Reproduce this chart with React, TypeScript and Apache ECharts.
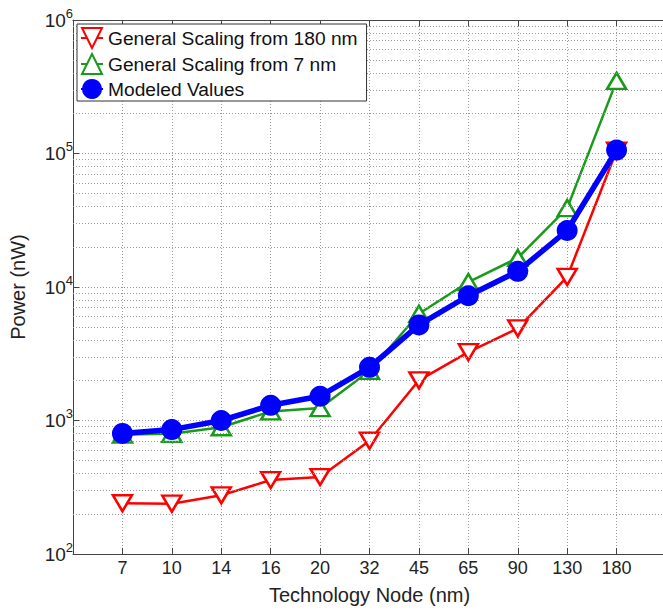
import React, { useEffect, useRef } from "react";
import * as echarts from "echarts";

const nodes = ["7", "10", "14", "16", "20", "32", "45", "65", "90", "130", "180"];
const from180 = [240, 238, 275, 358, 377, 705, 2000, 3250, 4900, 11900, 105000];
const from7 = [785, 795, 890, 1170, 1240, 2350, 6300, 10900, 16500, 39000, 350000];
const modeled = [800, 855, 1000, 1300, 1520, 2500, 5200, 8600, 13100, 26500, 106000];
const decades = [100, 1000, 10000, 100000];
const minorMultipliers = [2, 3, 4, 5, 6, 7, 8, 9];

const FONT = "Liberation Sans, Arial, Helvetica, sans-serif";

export default function App() {
  const ref = useRef<HTMLDivElement>(null);
  useEffect(() => {
    if (!ref.current) return;
    const chart = echarts.init(ref.current, undefined, { renderer: "svg" });
    const minorValues = decades.flatMap((d) => minorMultipliers.map((m) => m * d));
    const toPairs = (arr: number[]) => arr.map((v, i) => [i + 1, v]);
    const gridLine = { color: "#9a9a9a", type: [1, 2] as any, width: 1 };
    chart.setOption({
      animation: false,
      backgroundColor: "#fff",
      textStyle: { fontFamily: FONT },
      grid: {
        left: 73,
        top: 20,
        width: 593,
        height: 534,
        show: false,
        containLabel: false,
        outerBoundsMode: "none",
      },
      legend: {
        left: 77,
        top: 24,
        orient: "vertical",
        data: ["General Scaling from 180 nm", "General Scaling from 7 nm", "Modeled Values"],
        backgroundColor: "#fff",
        borderColor: "#333",
        borderWidth: 1,
        borderRadius: 0,
        padding: [3, 9, 2, 3],
        itemWidth: 22,
        itemHeight: 25,
        itemGap: 4,
        textStyle: { fontFamily: FONT, fontSize: 19.2, color: "#111" },
        z: 10,
      },
      xAxis: [
        {
          type: "value",
          min: 0,
          max: 12,
          interval: 1,
          name: "Technology Node (nm)",
          nameLocation: "middle",
          nameGap: 31,
          nameTextStyle: { fontFamily: FONT, fontSize: 20, color: "#222" },
          axisLine: { show: true, lineStyle: { color: "#444", width: 1 } },
          axisTick: { show: true, inside: true, length: 6, lineStyle: { color: "#444" } },
          axisLabel: {
            fontFamily: FONT,
            fontSize: 18,
            color: "#222",
            margin: 5,
            showMinLabel: true,
            showMaxLabel: true,
            formatter: (v: number) => nodes[Math.round(v) - 1] ?? "",
          },
          splitLine: { show: true, lineStyle: gridLine },
        },
        {
          type: "value",
          position: "top",
          min: 0,
          max: 12,
          interval: 1,
          axisLine: { show: true, lineStyle: { color: "#444", width: 1 } },
          axisTick: { show: true, inside: true, length: 6, lineStyle: { color: "#444" } },
          axisLabel: { show: false },
          splitLine: { show: false },
        },
      ],
      yAxis: {
        type: "log",
        logBase: 10,
        min: 100,
        max: 1000000,
        name: "Power (nW)",
        nameLocation: "middle",
        nameGap: 45,
        nameTextStyle: { fontFamily: FONT, fontSize: 20, color: "#222" },
        axisLine: { show: true, lineStyle: { color: "#444", width: 1 } },
        axisTick: { show: true, inside: true, length: 6, lineStyle: { color: "#444" } },
        axisLabel: {
          margin: 0,
          formatter: (v: number) => `{b|10}{s|${Math.round(Math.log10(v))}}`,
          rich: {
            b: { fontFamily: FONT, fontSize: 19, color: "#222" },
            s: { fontFamily: FONT, fontSize: 13, color: "#222", padding: [0, 0, 14, 0] },
          },
        },
        splitLine: { show: true, lineStyle: gridLine },
      },
      series: [
        {
          type: "line",
          name: "_grid",
          data: [],
          z: 1,
          silent: true,
          markLine: {
            silent: true,
            symbol: ["none", "none"],
            label: { show: false },
            lineStyle: gridLine,
            emphasis: { disabled: true },
            data: minorValues.map((v) => ({ yAxis: v })),
          },
        },
        {
          type: "line",
          name: "General Scaling from 180 nm",
          data: toPairs(from180),
          color: "#ff0000",
          symbol: "triangle",
          symbolRotate: 180,
          symbolSize: [19, 16],
          lineStyle: { color: "#ff0000", width: 2.5 },
          itemStyle: { color: "#fff", borderColor: "#ff0000", borderWidth: 2.5 },
          z: 3,
        },
        {
          type: "line",
          name: "General Scaling from 7 nm",
          data: toPairs(from7),
          color: "#1a9a1a",
          symbol: "triangle",
          symbolSize: [19, 16],
          lineStyle: { color: "#1a9a1a", width: 2.5 },
          itemStyle: { color: "#fff", borderColor: "#1a9a1a", borderWidth: 2.5 },
          z: 4,
        },
        {
          type: "line",
          name: "Modeled Values",
          data: toPairs(modeled),
          color: "#0000ff",
          symbol: "circle",
          symbolSize: 21,
          lineStyle: { color: "#0000ff", width: 5.5 },
          itemStyle: { color: "#0000ff" },
          z: 5,
        },
      ],
    });
    return () => chart.dispose();
  }, []);
  return (
    <div
      style={{
        position: "absolute",
        left: 0,
        top: 0,
        width: 663,
        height: 611,
        overflow: "hidden",
        background: "#fff",
      }}
    >
      <div ref={ref} style={{ width: 663, height: 611 }} />
    </div>
  );
}
